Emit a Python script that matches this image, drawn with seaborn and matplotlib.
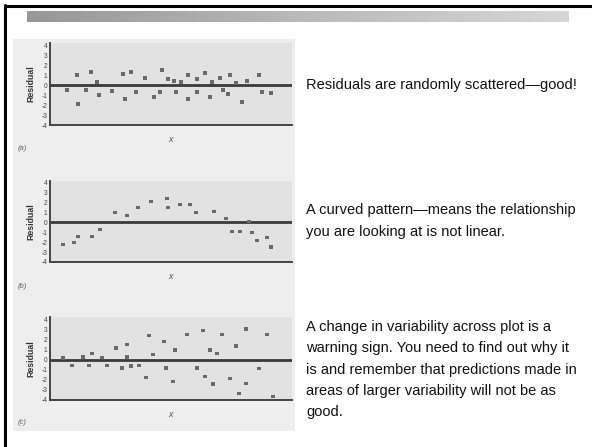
import numpy as np
import pandas as pd
import matplotlib
matplotlib.use("Agg")
import matplotlib.pyplot as plt
from matplotlib.lines import Line2D
from matplotlib.patches import Rectangle
import seaborn as sns

# residual data (x in arbitrary units, 0..242)
x_a = [17, 27, 28, 36, 41, 47, 49, 62, 73, 75, 81, 86, 95, 104, 110, 112, 118, 124, 126,
       131, 138, 138, 147, 147, 155, 160, 162, 170, 173, 178, 180, 186, 192, 197, 209, 212, 221]
res_a = [-0.5, 1.0, -1.9, -0.5, 1.3, 0.3, -1.0, -0.6, 1.1, -1.4, 1.3, -0.7, 0.7, -1.2, -0.7,
         1.5, 0.6, 0.4, -0.7, 0.3, 1.0, -1.4, 0.6, -0.7, 1.2, -1.2, 0.3, 0.7, -0.5, -0.9,
         1.0, 0.2, -1.7, 0.4, 1.0, -0.7, -0.8]

x_b = [13, 24, 28, 42, 50, 65, 77, 88, 101, 117, 118, 130, 140, 146, 164, 176, 182, 190,
       199, 202, 207, 217, 221]
res_b = [-2.2, -2.0, -1.4, -1.4, -0.7, 1.0, 0.7, 1.5, 2.1, 2.4, 1.5, 1.8, 1.8, 1.0, 1.1,
         0.4, -0.9, -0.9, 0.1, -1.0, -1.8, -1.5, -2.5]

x_c = [13, 22, 33, 39, 42, 52, 57, 66, 72, 77, 77, 81, 89, 96, 99, 103, 114, 116, 123, 125,
       137, 147, 153, 155, 160, 163, 167, 172, 180, 186, 189, 196, 196, 209, 217, 223]
res_c = [0.15, -0.6, 0.25, -0.6, 0.6, 0.2, -0.6, 1.15, -0.85, 1.5, 0.25, -0.65, -0.6, -1.8,
         2.4, 0.5, 1.75, -0.85, -2.15, 0.95, 2.45, -0.85, 2.85, -1.7, 0.95, -2.4, 0.6, 2.5,
         -1.9, 1.35, -3.35, 3.0, -2.35, -0.9, 2.45, -3.65]

panel_tags = ["(a)", "(b)", "(c)"]
y_ticks = [-4, -3, -2, -1, 0, 1, 2, 3, 4]
x_ticks = [62, 120, 180]

notes = [
    ["Residuals are randomly scattered\u2014good!"],
    ["A curved pattern\u2014means the relationship",
     "you are looking at is not linear."],
    ["A change in variability across plot is a",
     "warning sign. You need to find out why it",
     "is and remember that predictions made in",
     "areas of larger variability will not be as",
     "good."],
]

sns.set_style("white")
plt.rcParams['font.family'] = ['Liberation Sans', 'DejaVu Sans']

W, H = 592, 447
fig = plt.figure(figsize=(W / 100, H / 100), dpi=100)


def fx(px):
    return px / W


def fy(py):
    return 1 - py / H


# slide frame: black edge on the top and left
fig.add_artist(Line2D([fx(5), fx(5)], [fy(5), 0], color="black", lw=2.2, transform=fig.transFigure))
fig.add_artist(Line2D([fx(5), 1], [fy(6), fy(6)], color="black", lw=2.2, transform=fig.transFigure))

# gradient title bar
bar = fig.add_axes([fx(27), fy(22), fx(569) - fx(27), (22 - 11) / H])
grad = np.linspace(0, 1, 256).reshape(1, -1)
bar.imshow(grad, aspect="auto", cmap=matplotlib.colors.LinearSegmentedColormap.from_list(
    "g", ["#979797", "#b9b9b9", "#d6d6d6"]))
bar.set_axis_off()

# light background behind the three residual plots
fig.add_artist(Rectangle((fx(13), fy(431)), fx(295) - fx(13), (431 - 39) / H,
                         facecolor="#eeeeee", edgecolor="none", transform=fig.transFigure, zorder=0))

panels = [(x_a, res_a, 43, 125), (x_b, res_b, 181, 262), (x_c, res_c, 317, 400)]
tag_y = [148, 287, 422]

for i, (xs, ys, top, bottom) in enumerate(panels):
    ax = fig.add_axes([fx(50), fy(bottom), fx(292) - fx(50), (bottom - top) / H])
    ax.set_facecolor("#e2e2e2")
    df = pd.DataFrame({"x": xs, "residual": ys})
    ax.axhline(0, color="#3a3a3a", lw=2, zorder=1)
    sns.scatterplot(data=df, x="x", y="residual", ax=ax, marker="s", s=6,
                    color="#6a6a6a", edgecolor="none", zorder=2)
    ax.set_xlim(0, 242)
    ax.set_ylim(-4, 4.2)
    ax.set_yticks(y_ticks)
    ax.set_yticklabels([str(t) for t in y_ticks], fontsize=4.8, color="#444444")
    ax.set_xticks(x_ticks)
    ax.set_xticklabels([])
    ax.tick_params(axis="y", direction="in", length=3, width=1.1, color="#444444", pad=2)
    ax.tick_params(axis="x", direction="out", length=4, width=1.1, color="#444444")
    for s in ["top", "right"]:
        ax.spines[s].set_visible(False)
    for s in ["left", "bottom"]:
        ax.spines[s].set_color("#444444")
        ax.spines[s].set_linewidth(1.4)
    ax.set_xlabel("x", fontsize=6.5, style="italic", color="#555555", labelpad=0)
    ax.set_ylabel("Residual", fontsize=6.3, fontweight="bold", color="#333333", labelpad=4)
    fig.text(fx(18), fy(tag_y[i]), panel_tags[i], fontsize=5.5, style="italic",
             color="#666666", va="center")

# explanatory notes on the right
note_y = [[85], [210, 232], [327, 348, 370, 391, 412]]
for lines, ys in zip(notes, note_y):
    for line, y in zip(lines, ys):
        fig.text(fx(306), fy(y), line, fontsize=10.5, color="#111111", va="center")

fig.savefig("out.png", dpi=100)
